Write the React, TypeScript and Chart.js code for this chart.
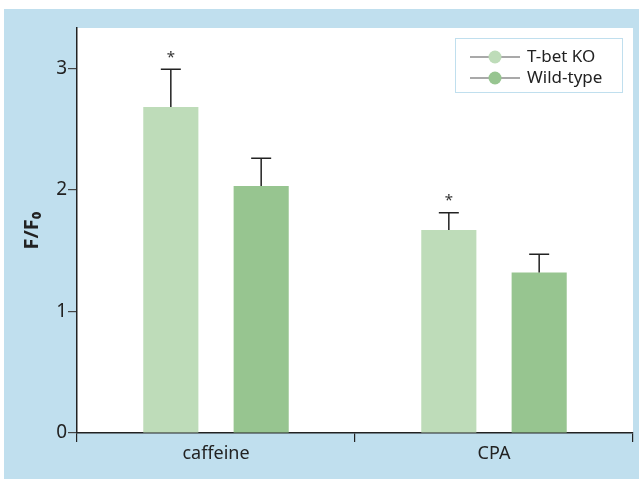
import React, { useEffect, useRef } from "react";
import { Chart, registerables } from "chart.js";

Chart.register(...registerables);

const categories = ["caffeine", "CPA"];
const seriesNames = ["T-bet KO", "Wild-type"];
const tbetValues = [2.68, 1.67];
const wildValues = [2.03, 1.32];
const tbetErrors = [0.31, 0.14];
const wildErrors = [0.23, 0.15];
const tbetSignificant = [true, true];
const wildSignificant = [false, false];
const yTicks = [0, 1, 2, 3];

const LIGHT = "#bedcb9";
const DARK = "#97c590";
const BLUE = "#c0dfee";
const FONT = "'Noto Sans', 'Open Sans', sans-serif";

const errorPlugin = {
  id: "errorBars",
  beforeDraw(chart: any) {
    const { ctx, chartArea } = chart;
    ctx.save();
    ctx.fillStyle = "#ffffff";
    ctx.fillRect(chartArea.left, chartArea.top, chartArea.right - chartArea.left, chartArea.bottom - chartArea.top);
    ctx.restore();
  },
  afterDatasetsDraw(chart: any) {
    const { ctx } = chart;
    const y = chart.scales.y;
    const errs = [tbetErrors, wildErrors];
    const sig = [tbetSignificant, wildSignificant];
    chart.data.datasets.forEach((ds: any, di: number) => {
      const meta = chart.getDatasetMeta(di);
      meta.data.forEach((bar: any, i: number) => {
        const v = ds.data[i];
        const top = y.getPixelForValue(v + errs[di][i]);
        const base = y.getPixelForValue(v);
        ctx.save();
        ctx.strokeStyle = "#222222";
        ctx.lineWidth = 1.5;
        ctx.beginPath();
        ctx.moveTo(bar.x, base);
        ctx.lineTo(bar.x, top);
        ctx.moveTo(bar.x - 10, top);
        ctx.lineTo(bar.x + 10, top);
        ctx.stroke();
        if (sig[di][i]) {
          ctx.fillStyle = "#333333";
          ctx.font = `15px ${FONT}`;
          ctx.textAlign = "center";
          ctx.textBaseline = "middle";
          ctx.fillText("*", bar.x, top - 12);
        }
        ctx.restore();
      });
    });
  },
  afterDraw(chart: any) {
    const { ctx, chartArea } = chart;
    const w = 167;
    const h = 54;
    const left = chartArea.right - 11 - w;
    const top = chartArea.top + 10;
    ctx.save();
    ctx.strokeStyle = BLUE;
    ctx.lineWidth = 1;
    ctx.strokeRect(left + 0.5, top + 0.5, w, h);
    const colors = [LIGHT, DARK];
    seriesNames.forEach((name, i) => {
      const cy = top + 19 + i * 21;
      ctx.strokeStyle = "#555555";
      ctx.lineWidth = 1.2;
      ctx.beginPath();
      ctx.moveTo(left + 15, cy);
      ctx.lineTo(left + 65, cy);
      ctx.stroke();
      ctx.fillStyle = colors[i];
      ctx.beginPath();
      ctx.arc(left + 40, cy, 6.5, 0, Math.PI * 2);
      ctx.fill();
      ctx.fillStyle = "#222222";
      ctx.font = `17px ${FONT}`;
      ctx.textAlign = "left";
      ctx.textBaseline = "middle";
      ctx.fillText(name, left + 72, cy);
    });
    ctx.restore();
  },
};

export default function App() {
  const ref = useRef<HTMLCanvasElement | null>(null);
  useEffect(() => {
    if (!ref.current) return;
    const chart = new Chart(ref.current, {
      type: "bar",
      data: {
        labels: categories,
        datasets: [
          {
            label: seriesNames[0],
            data: tbetValues,
            backgroundColor: LIGHT,
            categoryPercentage: 0.65,
            barPercentage: 0.61,
          },
          {
            label: seriesNames[1],
            data: wildValues,
            backgroundColor: DARK,
            categoryPercentage: 0.65,
            barPercentage: 0.61,
          },
        ],
      },
      options: {
        responsive: false,
        animation: false,
        layout: { padding: { top: 19, right: 6, left: 0, bottom: 0 } },
        plugins: { legend: { display: false }, tooltip: { enabled: false } },
        scales: {
          x: {
            offset: true,
            grid: {
              offset: true,
              drawOnChartArea: false,
              drawTicks: true,
              tickLength: 9,
              color: "#222222",
              lineWidth: 1.2,
            },
            border: { color: "#222222", width: 1.5 },
            ticks: { color: "#222222", font: { family: FONT, size: 18 }, padding: 1 },
            afterFit: (s: any) => {
              s.height = 46;
            },
          },
          y: {
            min: 0,
            max: 3.33,
            afterBuildTicks: (s: any) => {
              s.ticks = yTicks.map((v) => ({ value: v }));
            },
            grid: {
              drawOnChartArea: false,
              tickLength: 9,
              color: "#444444",
              lineWidth: 1.2,
            },
            border: { color: "#222222", width: 1.5 },
            ticks: { color: "#222222", font: { family: FONT, size: 19 }, padding: 1 },
            title: {
              display: true,
              text: "F/F₀",
              color: "#222222",
              font: { family: FONT, size: 20, weight: "bold" },
              padding: { top: 16, bottom: 0 },
            },
            afterFit: (s: any) => {
              s.width = 73;
            },
          },
        },
      },
      plugins: [errorPlugin],
    });
    return () => chart.destroy();
  }, []);
  return (
    <div
      style={{
        position: "fixed",
        left: 4,
        top: 9,
        width: 635,
        height: 470,
        background: BLUE,
      }}
    >
      <canvas ref={ref} width={635} height={470} style={{ display: "block" }} />
    </div>
  );
}
